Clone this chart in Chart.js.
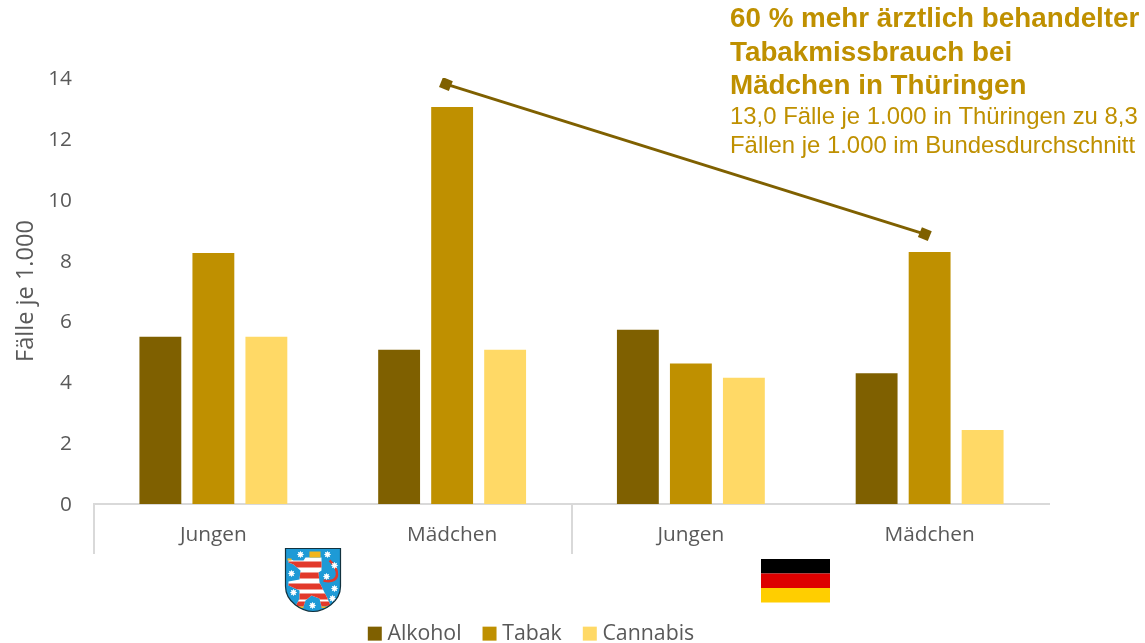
<!DOCTYPE html>
<html><head><meta charset="utf-8">
<style>html,body{margin:0;padding:0;background:#fff;overflow:hidden}#w{position:relative;width:1145px;height:643px}canvas{display:block}</style>
<script src="https://cdn.jsdelivr.net/npm/chart.js@4"></script></head>
<body><div id="w"><canvas id="c" width="1145" height="643"></canvas></div>
<script>
const categories = ['Jungen','Mädchen','Jungen','Mädchen'];
const alkohol = [5.5,5.07,5.73,4.3];
const tabak = [8.25,13.05,4.62,8.28];
const cannabis = [5.5,5.07,4.15,2.43];
const calloutX = [0.974,2.98];
const calloutY = [13.8,8.87];
const calloutHead = ['60 % mehr ärztlich behandelter','Tabakmissbrauch bei','Mädchen in Thüringen'];
const calloutBody = ['13,0 Fälle je 1.000 in Thüringen zu 8,3','Fällen je 1.000 im Bundesdurchschnitt'];
const C1='#7F6000',C2='#BF9000',C3='#FFD966',GREY='#595959',AX='#D9D9D9';
const font='"Open Sans","Noto Sans",sans-serif';

function star(ctx,x,y,r){ctx.beginPath();for(let i=0;i<16;i++){const a=i*Math.PI/8,q=i%2?r*.55:r;ctx.lineTo(x+q*Math.cos(a),y+q*Math.sin(a));}ctx.closePath();ctx.fill();}
function shieldPath(ctx,x,y,w,h){ctx.beginPath();ctx.moveTo(x,y);ctx.lineTo(x+w,y);ctx.lineTo(x+w,y+h*.6);
 ctx.bezierCurveTo(x+w,y+h*.85,x+w*.7,y+h,x+w/2,y+h);ctx.bezierCurveTo(x+w*.3,y+h,x,y+h*.85,x,y+h*.6);ctx.closePath();}
const lion=[[3,10],[8,12],[18,12],[20,9],[36,9],[36,22],[33,24],[34,34],[38,42],[42,50],[45,57],[36,58],[34,50],[26,47],[20,52],[18,58],[10,58],[14,50],[14,42],[3,37],[3,33],[14,31],[15,22],[8,16],[3,14]];
const decor={id:'decor',
 afterLayout(chart){const l=chart.legend;l.left+=9;l.right+=9;l.top-=1;l.bottom-=1;},
 afterDraw(chart){
 const ctx=chart.ctx;ctx.save();
 ctx.fillStyle=C2;ctx.textBaseline='alphabetic';ctx.textAlign='left';
 ctx.font='bold 27.8px "Liberation Sans"';
 calloutHead.forEach((t,i)=>ctx.fillText(t,730,27+i*33.5));
 ctx.font='23.9px "Liberation Sans"';
 calloutBody.forEach((t,i)=>ctx.fillText(t,730,124+i*29));
 const x=285.5,y=548.5,w=55,h=63;
 shieldPath(ctx,x,y,w,h);ctx.fillStyle='#1E9AD6';ctx.fill();
 ctx.save();ctx.clip();
 ctx.strokeStyle='#E2392B';ctx.lineWidth=2.5;ctx.beginPath();ctx.moveTo(x+38,y+32);ctx.bezierCurveTo(x+56,y+36,x+54,y+20,x+44,y+12);ctx.stroke();
 ctx.beginPath();lion.forEach(p=>ctx.lineTo(x+p[0],y+p[1]));ctx.closePath();ctx.fillStyle='#fff';ctx.fill();
 ctx.save();ctx.clip();ctx.fillStyle='#E2392B';[13,24,35,45,53].forEach(o=>ctx.fillRect(x,y+o,w,6));ctx.restore();
 ctx.fillStyle='#fff';[[15,6],[42,6],[49,17],[6,25],[41,28],[49,40],[8,44],[27,57],[47,50]].forEach(p=>star(ctx,x+p[0],y+p[1],3.8));
 ctx.fillStyle='#F2B51D';ctx.fillRect(x+24,y+3,11,6);
 ctx.fillRect(x+2,y+10,4,2);ctx.fillRect(x+10,y+58,8,1.5);ctx.fillRect(x+36,y+58,9,1.5);
 ctx.restore();
 shieldPath(ctx,x,y,w,h);ctx.strokeStyle='#12323F';ctx.lineWidth=1.2;ctx.stroke();
 ctx.fillStyle='#000';ctx.fillRect(761,559,69,14.5);
 ctx.fillStyle='#DD0000';ctx.fillRect(761,573.5,69,14.5);
 ctx.fillStyle='#FFCE00';ctx.fillRect(761,588,69,14.5);
 ctx.restore();
}};
new Chart(document.getElementById('c'),{
 type:'bar',plugins:[decor],
 data:{labels:categories,datasets:[
  {type:'line',label:'Hinweis',data:calloutX.map((v,i)=>({x:v,y:calloutY[i]})),parsing:false,borderColor:C1,backgroundColor:C1,borderWidth:3,pointStyle:'rect',pointRadius:7.5,pointRotation:22,pointBorderWidth:0,order:0},
  {label:'Alkohol',data:alkohol,backgroundColor:C1,order:1},
  {label:'Tabak',data:tabak,backgroundColor:C2,order:1},
  {label:'Cannabis',data:cannabis,backgroundColor:C3,order:1}
 ]},
 options:{responsive:false,animation:false,
  datasets:{bar:{barPercentage:.79,categoryPercentage:.666}},
  layout:{padding:{left:0,right:96,top:78,bottom:0}},
  plugins:{tooltip:{enabled:false},title:{display:false},
   legend:{position:'bottom',maxHeight:45,labels:{filter:i=>i.text!=='Hinweis',usePointStyle:true,pointStyle:'rect',boxWidth:4,boxHeight:14,padding:26,color:GREY,font:{family:font,size:21.3}}}},
  scales:{
   x:{grid:{offset:true,drawOnChartArea:false,drawTicks:true,tickLength:50,lineWidth:2,color:c=>c.index%2===0?AX:'transparent'},
      border:{color:AX,width:2},
      ticks:{color:GREY,padding:-31,maxRotation:0,font:{family:font,size:20.8}},
      afterFit(s){s.height=94}},
   y:{min:0,max:14,ticks:{stepSize:2,color:GREY,padding:14,labelOffset:1,font:{family:font,size:20.8}},
      grid:{display:false},border:{display:false},
      title:{display:true,text:'Fälle je 1.000',color:GREY,padding:{top:12,bottom:0},font:{family:font,size:23.6}},
      afterFit(s){s.width=94}}
  }}
});
</script></body></html>
